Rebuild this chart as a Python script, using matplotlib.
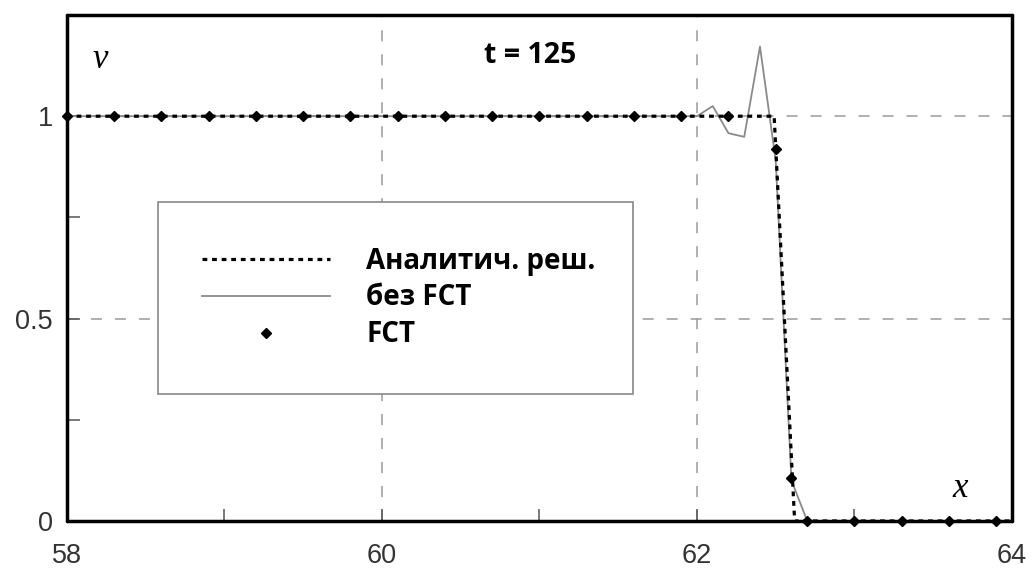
import matplotlib
matplotlib.use("Agg")
import matplotlib.pyplot as plt
from matplotlib.ticker import MultipleLocator

# analytic solution (step front)
x_exact = [58.0, 62.49, 62.62, 64.0]
v_exact = [1.0, 1.0, 0.0, 0.0]

# scheme without FCT (oscillations ahead of the front)
x_nofct = [58.0, 61.9, 62.0, 62.1, 62.2, 62.3, 62.4, 62.5, 62.6, 62.7, 64.0]
v_nofct = [1.0, 1.0, 1.0, 1.025, 0.958, 0.949, 1.172, 0.89, 0.10, 0.0, 0.0]

# FCT scheme (shown as markers)
x_fct = [58.0, 58.3, 58.6, 58.9, 59.2, 59.5, 59.8, 60.1, 60.4, 60.7, 61.0,
         61.3, 61.6, 61.9, 62.2, 62.5, 62.6, 62.7, 63.0, 63.3, 63.6, 63.9]
v_fct = [1.0, 1.0, 1.0, 1.0, 1.0, 1.0, 1.0, 1.0, 1.0, 1.0, 1.0,
         1.0, 1.0, 1.0, 1.0, 0.92, 0.106, 0.0, 0.0, 0.0, 0.0, 0.0]

labels = ["Аналитич. реш.", "без FCT", "FCT"]
title_text = "t = 125"

fig = plt.figure(figsize=(10.32, 5.69), dpi=100)
ax = fig.add_axes([0.0649, 0.0844, 0.9157, 0.8892])

ax.plot(x_exact, v_exact, color="black", lw=2.3, linestyle=(0, (1.5, 1.5)),
        label=labels[0], zorder=3)
ax.plot(x_nofct, v_nofct, color="#8a8a8a", lw=1.3, label=labels[1], zorder=2)
ax.plot(x_fct, v_fct, linestyle="none", marker="D", ms=5, color="black",
        label=labels[2], clip_on=False, zorder=5)

ax.set_xlim(58, 64)
ax.set_ylim(0, 1.25)
ax.set_xticks([58, 60, 62, 64])
ax.set_yticks([0, 0.5, 1])
ax.set_yticklabels(["0", "0.5", "1"])
ax.xaxis.set_minor_locator(MultipleLocator(1))
ax.yaxis.set_minor_locator(MultipleLocator(0.25))

ax.grid(True, which="major", color="#9a9a9a", lw=1.1, linestyle=(0, (7.2, 8.5)))
ax.tick_params(which="both", direction="in", color="#555555", width=1.1,
               top=False, right=False, length=9)
ax.tick_params(axis="x", pad=16)
ax.tick_params(axis="y", pad=10)
for lab in ax.get_xticklabels() + ax.get_yticklabels():
    lab.set_fontfamily("Liberation Sans")
    lab.set_fontsize(19.5)
    lab.set_color("#333333")

for sp in ax.spines.values():
    sp.set_linewidth(2.5)
    sp.set_color("black")
    sp.set_capstyle("round")
    sp.set_zorder(4)

ax.text(0.035, 0.913, "v", transform=ax.transAxes, fontsize=25,
        family="Liberation Serif", style="italic", ha="center", va="center")
ax.text(0.945, 0.065, "x", transform=ax.transAxes, fontsize=25,
        family="Liberation Serif", style="italic", ha="center", va="center")
ax.text(0.49, 0.92, title_text, transform=ax.transAxes, fontsize=20.5,
        fontweight="bold", family=["Open Sans", "DejaVu Sans"],
        ha="center", va="center")

leg = ax.legend(loc="upper left", bbox_to_anchor=(0.096, 0.63, 0.503, 0.0),
                mode="expand", fancybox=False, framealpha=1, edgecolor="#888888",
                handlelength=4.6, handletextpad=1.3, borderpad=1.6,
                labelspacing=0.28, borderaxespad=0,
                prop={"family": ["Open Sans", "DejaVu Sans"], "weight": "bold",
                      "size": 20})
leg.get_frame().set_linewidth(1.2)
leg.set_zorder(6)

fig.savefig("out.png", dpi=100)
